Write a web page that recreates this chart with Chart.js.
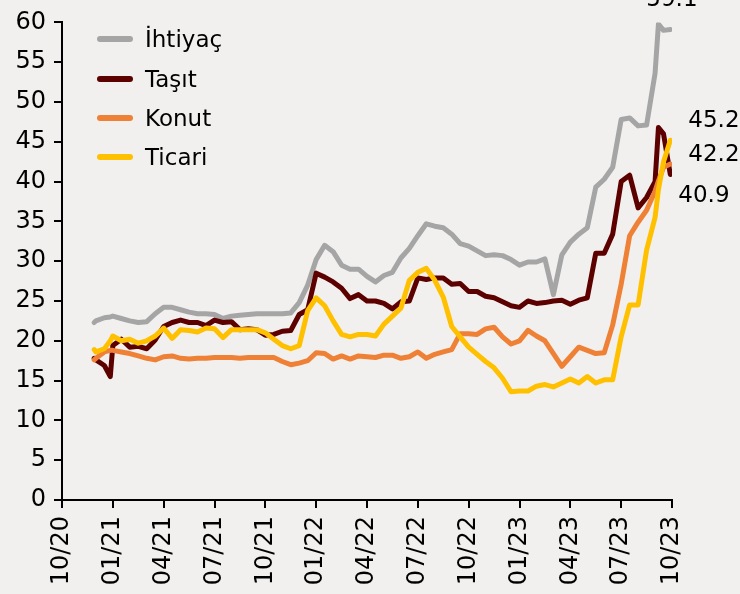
<!DOCTYPE html>
<html>
<head>
<meta charset="utf-8">
<script src="https://cdn.jsdelivr.net/npm/chart.js@4.4.1/dist/chart.umd.min.js"></script>
<style>
html,body{margin:0;padding:0;background:#F2F0EE;}
#wrap{width:740px;height:594px;}
</style>
</head>
<body>
<div id="wrap"><canvas id="c" width="740" height="594"></canvas></div>
<script>
// months elapsed since October 2020
const months = [1.9, 2, 2.5, 2.85, 3, 3.5, 4, 4.5, 5, 5.5, 6, 6.5, 7, 7.5, 8, 8.5, 9, 9.5, 10, 10.5,
  11, 11.5, 12, 12.5, 13, 13.5, 14, 14.5, 15, 15.5, 16, 16.5, 17, 17.5, 18, 18.5, 19, 19.5, 20, 20.5,
  21, 21.5, 22, 22.5, 23, 23.5, 24, 24.5, 25, 25.5, 26, 26.5, 27, 27.5, 28, 28.5, 29, 29.5, 30, 30.5,
  31, 31.5, 32, 32.5, 33, 33.5, 34, 34.5, 35, 35.2, 35.5, 35.9];

const tickLabels = ['10/20','01/21','04/21','07/21','10/21','01/22','04/22','07/22','10/22','01/23','04/23','07/23','10/23'];

const ihtiyac = [22.3, 22.5, 22.9, 23.0, 23.1, 22.8, 22.5, 22.3, 22.4, 23.4, 24.2, 24.2, 23.9, 23.6, 23.4, 23.4, 23.3, 22.8, 23.1, 23.2,
  23.3, 23.4, 23.4, 23.4, 23.4, 23.5, 24.8, 27.0, 30.2, 32.0, 31.2, 29.5, 29.0, 29.0, 28.1, 27.4, 28.2, 28.6, 30.4, 31.6,
  33.2, 34.7, 34.4, 34.2, 33.4, 32.2, 31.9, 31.3, 30.7, 30.8, 30.7, 30.2, 29.5, 29.9, 29.9, 30.3, 25.8, 30.8, 32.4, 33.4,
  34.2, 39.3, 40.3, 41.8, 47.8, 48.0, 47.0, 47.1, 53.6, 59.8, 59.0, 59.1];

const tasit = [17.8, 17.6, 16.9, 15.5, 19.4, 20.2, 19.2, 19.3, 19.0, 20.1, 21.8, 22.3, 22.6, 22.3, 22.3, 21.9, 22.6, 22.3, 22.4, 21.4,
  21.5, 21.4, 20.7, 20.8, 21.2, 21.3, 23.3, 23.9, 28.5, 28.0, 27.4, 26.6, 25.3, 25.8, 25.0, 25.0, 24.7, 24.0, 24.9, 25.0,
  27.9, 27.7, 27.9, 27.9, 27.1, 27.2, 26.2, 26.2, 25.6, 25.4, 24.9, 24.4, 24.2, 25.0, 24.7, 24.8, 25.0, 25.1, 24.6, 25.1,
  25.4, 31.0, 31.0, 33.4, 40.0, 40.8, 36.7, 38.0, 40.0, 46.8, 46.0, 40.9];

const konut = [17.6, 17.8, 18.6, 18.8, 18.8, 18.6, 18.4, 18.1, 17.8, 17.6, 18.0, 18.1, 17.8, 17.7, 17.8, 17.8, 17.9, 17.9, 17.9, 17.8,
  17.9, 17.9, 17.9, 17.9, 17.4, 17.0, 17.2, 17.5, 18.5, 18.4, 17.7, 18.1, 17.7, 18.1, 18.0, 17.9, 18.2, 18.2, 17.8, 18.0,
  18.6, 17.8, 18.3, 18.6, 18.9, 20.9, 20.9, 20.8, 21.5, 21.7, 20.5, 19.6, 20.0, 21.3, 20.6, 20.0, 18.4, 16.8, 18.0, 19.2,
  18.8, 18.4, 18.5, 22.0, 27.1, 33.2, 34.9, 36.4, 38.8, 40.1, 41.8, 42.2];

const ticari = [18.9, 18.6, 19.0, 20.0, 20.6, 20.0, 20.2, 19.7, 20.0, 20.6, 21.6, 20.3, 21.4, 21.3, 21.1, 21.6, 21.5, 20.4, 21.4, 21.4,
  21.4, 21.4, 21.0, 20.2, 19.4, 19.0, 19.4, 23.8, 25.4, 24.4, 22.5, 20.8, 20.5, 20.8, 20.8, 20.6, 22.1, 23.1, 24.1, 27.6,
  28.6, 29.1, 27.6, 25.5, 21.8, 20.5, 19.2, 18.3, 17.4, 16.6, 15.3, 13.6, 13.7, 13.7, 14.3, 14.5, 14.2, 14.7, 15.2, 14.7,
  15.5, 14.7, 15.1, 15.1, 20.5, 24.5, 24.5, 31.4, 35.5, 39.0, 42.5, 45.2];

const seriesNames = ['İhtiyaç', 'Taşıt', 'Konut', 'Ticari'];
const seriesValues = [ihtiyac, tasit, konut, ticari];

// styles (not data)
const colors = ['#A5A5A5', '#5C0000', '#EE8135', '#FFC000'];
const drawOrder = [4, 3, 2, 1];
const endLabelOffset = [[-24, -24], [8, 28], [18, -3], [18, -13]];

const FONT = '"DejaVu Sans", sans-serif';
const BG = '#F2F0EE';

const datasets = seriesNames.map((name, k) => ({
  label: name,
  data: months.map((m, i) => ({x: m, y: seriesValues[k][i]})),
  borderColor: colors[k],
  backgroundColor: colors[k],
  borderWidth: 5,
  pointRadius: 0,
  tension: 0,
  fill: false,
  borderJoinStyle: 'round',
  borderCapStyle: 'round',
  order: drawOrder[k]
}));

const bgPlugin = {
  id: 'bg',
  beforeDraw(chart) {
    const c = chart.ctx;
    c.save();
    c.fillStyle = BG;
    c.fillRect(0, 0, chart.width, chart.height);
    c.restore();
  }
};

const legendPlugin = {
  id: 'customLegend',
  afterDraw(chart) {
    const c = chart.ctx;
    const rows = [39, 79, 118, 157];
    c.save();
    c.font = '23px ' + FONT;
    c.textBaseline = 'alphabetic';
    c.textAlign = 'left';
    seriesNames.forEach((name, k) => {
      const y = rows[k];
      c.strokeStyle = colors[k];
      c.lineWidth = 6;
      c.lineCap = 'round';
      c.beginPath();
      c.moveTo(100, y);
      c.lineTo(130, y);
      c.stroke();
      c.fillStyle = '#000';
      c.fillText(name, 145, y + 8);
    });
    c.restore();
  }
};

const endLabelPlugin = {
  id: 'endLabels',
  afterDraw(chart) {
    const c = chart.ctx;
    c.save();
    c.font = '23px ' + FONT;
    c.fillStyle = '#000';
    c.textAlign = 'left';
    c.textBaseline = 'alphabetic';
    chart.data.datasets.forEach((ds, k) => {
      const meta = chart.getDatasetMeta(k);
      const pt = meta.data[meta.data.length - 1];
      const v = ds.data[ds.data.length - 1].y;
      c.fillText(v.toFixed(1), pt.x + endLabelOffset[k][0], pt.y + endLabelOffset[k][1]);
    });
    c.restore();
  }
};

new Chart(document.getElementById('c'), {
  type: 'line',
  data: { datasets },
  options: {
    responsive: false,
    animation: false,
    devicePixelRatio: 1,
    layout: { padding: { top: 15, right: 68, left: 0, bottom: 0 } },
    plugins: { legend: { display: false }, tooltip: { enabled: false } },
    scales: {
      x: {
        type: 'linear',
        min: 0, max: 36,
        afterFit(s) { s.height = 94; },
        grid: { display: true, drawOnChartArea: false, drawTicks: true, tickLength: 8, color: '#000', lineWidth: 2 },
        border: { display: true, color: '#000', width: 2 },
        ticks: {
          stepSize: 3,
          autoSkip: false,
          minRotation: 90, maxRotation: 90,
          padding: 8,
          color: '#000',
          font: { family: FONT, size: 24 },
          callback: (v) => tickLabels[Math.round(v / 3)]
        }
      },
      y: {
        min: 0, max: 60,
        afterFit(s) { s.width = 62; },
        grid: { display: true, drawOnChartArea: false, drawTicks: true, tickLength: 8, color: '#000', lineWidth: 2 },
        border: { display: true, color: '#000', width: 2 },
        ticks: {
          stepSize: 5,
          padding: 8,
          color: '#000',
          font: { family: FONT, size: 24 }
        }
      }
    }
  },
  plugins: [bgPlugin, legendPlugin, endLabelPlugin]
});
</script>
</body>
</html>
